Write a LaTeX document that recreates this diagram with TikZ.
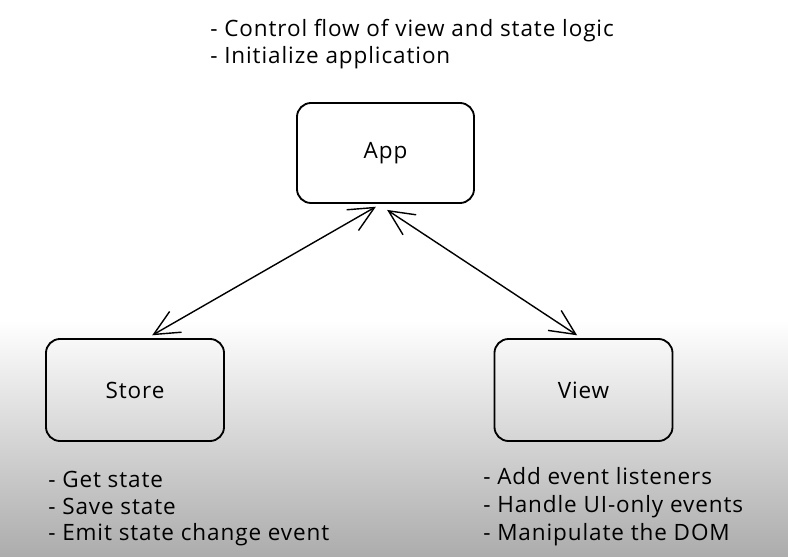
\documentclass[tikz,border=0pt]{standalone}
\usepackage{fontspec}
\setmainfont{Open Sans}[LetterSpace=4]
\usepackage{tikz}
\usetikzlibrary{
    positioning,
    arrows.meta,
}
\usepackage{xcolor}
\definecolor{shadow}{HTML}{ACACAC}

\begin{document}
\begin{tikzpicture}[x=0.025cm,y=-0.025cm,
        block/.style={draw,line width=1.3pt,rounded corners=10pt,
                      minimum width=4.45cm,minimum height=2.55cm,
                      font=\fontsize{16}{18}\selectfont},
        note/.style={anchor=base west,inner sep=0pt,
                     font=\fontsize{16}{18}\selectfont},
        link/.style={line width=1pt,
                     {Straight Barb[length=18pt,width=17pt]}-{Straight Barb[length=18pt,width=17pt]}},
    ]
    \pgfmathsetmacro\LeftX{48}
    \pgfmathsetmacro\RightX{483}
    \pgfmathsetmacro\TopX{210}
    %
    %
        % Sfondo
    \useasboundingbox (0,0) rectangle (788,557);
    \fill[white] (0,0) rectangle (788,557);
    \shade[top color=white,bottom color=shadow] (0,320) rectangle (788,557);
    %
        % Blocchi
    \node[block,minimum width=4.425cm,minimum height=2.5cm] (app) at (385.5,153) {App};
    \node[block] (store) at (135,390) {Store};
    \node[block] (view) at (583.5,390) {View};
    %
        % Collegamenti
    \draw[link] ([xshift=0.43cm,yshift=0.07cm]store.north) -- ([xshift=-0.24cm,yshift=-0.07cm]app.south);
    \draw[link] ([xshift=0.04cm,yshift=-0.15cm]app.south) -- ([xshift=-0.16cm,yshift=0.07cm]view.north);
    %
        % Compiti di App
    \node[note] (appA) at (\TopX,37) {- Control flow of view and state logic};
    \node[note] (appB) at (\TopX,64) {- Initialize application};
    %
        % Compiti di Store
    \node[note] (storeA) at (\LeftX,487) {- Get state};
    \node[note] (storeB) at (\LeftX,514) {- Save state};
    \node[note] (storeC) at (\LeftX,540) {- Emit state change event};
    %
        % Compiti di View
    \node[note] (viewA) at (\RightX,484) {- Add event listeners};
    \node[note] (viewB) at (\RightX,512) {- Handle UI-only events};
    \node[note] (viewC) at (\RightX,540) {- Manipulate the DOM};
\end{tikzpicture}
\end{document}
